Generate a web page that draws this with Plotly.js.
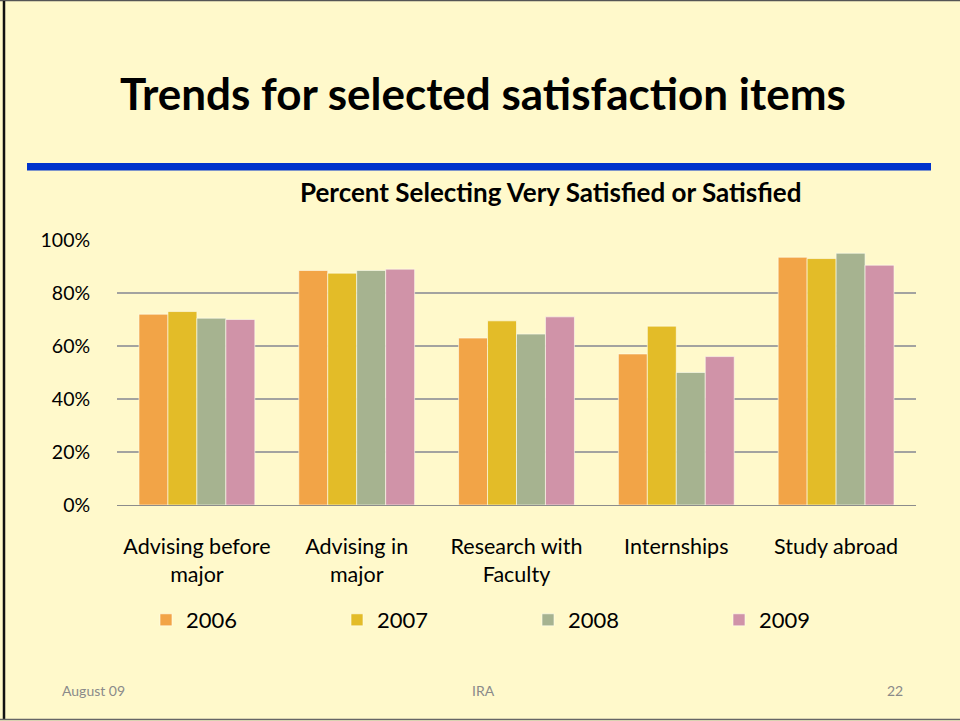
<!DOCTYPE html>
<html>
<head>
<meta charset="utf-8">
<script src="https://cdn.plot.ly/plotly-3.0.1.min.js"></script>
<style>
  html, body { margin: 0; padding: 0; background: #FFF9CB; }
  #chart { width: 960px; height: 721px; }
</style>
</head>
<body>
<div id="chart"></div>
<script>
const categories = ["Advising before<br>major", "Advising in<br>major", "Research with<br>Faculty", "Internships", "Study abroad"];
const years = ["2006", "2007", "2008", "2009"];
const values2006 = [72, 88.5, 63, 57, 93.5];
const values2007 = [73, 87.5, 69.5, 67.5, 93];
const values2008 = [70.5, 88.5, 64.5, 50, 95];
const values2009 = [70, 89, 71, 56, 90.5];
const seriesValues = [values2006, values2007, values2008, values2009];
const colors = ["#F2A447", "#E3BC28", "#A6B390", "#D093A8"];
const yTicks = [0, 20, 40, 60, 80, 100];

const W = 960, H = 721;
const L = 117, R = 916, T = 240, B = 505;
const px = x => (x - L) / (R - L);
const py = y => (B - y) / (B - T);

const FONT = "Lato, 'Open Sans', sans-serif";

const traces = years.map((yr, i) => ({
  type: "bar",
  name: yr,
  x: categories,
  y: seriesValues[i],
  marker: { color: colors[i], line: { color: "rgba(255,255,240,0.6)", width: 1 } },
  hoverinfo: "skip"
}));

const layout = {
  width: W, height: H,
  margin: { l: L, r: W - R, t: T, b: H - B, pad: 0 },
  paper_bgcolor: "#FFF9CB",
  plot_bgcolor: "#FFF9CB",
  barmode: "group",
  bargap: 0.275,
  bargroupgap: 0,
  showlegend: true,
  font: { family: FONT, color: "#000" },
  xaxis: {
    type: "category",
    showgrid: false,
    showline: true, linecolor: "#8C8C8C", linewidth: 1.3,
    ticks: "outside", ticklen: 22, tickcolor: "rgba(0,0,0,0)",
    tickfont: { family: FONT, size: 21.5, color: "#000" },
    fixedrange: true
  },
  yaxis: {
    range: [0, 100],
    tickvals: yTicks,
    ticktext: yTicks.map(v => v + "%"),
    showgrid: true, gridcolor: "#A3A3A0", gridwidth: 1.3,
    zeroline: false,
    showline: false,
    ticks: "outside", ticklen: 22, tickcolor: "rgba(0,0,0,0)",
    tickfont: { family: FONT, size: 19.5, color: "#000" },
    fixedrange: true
  },
  legend: {
    orientation: "h",
    x: px(146), xanchor: "left",
    y: py(620), yanchor: "middle",
    entrywidth: 146, entrywidthmode: "pixels",
    font: { family: FONT, size: 22, color: "#000" },
    bgcolor: "rgba(0,0,0,0)",
    traceorder: "normal"
  },
  shapes: [
    { type: "rect", xref: "paper", yref: "paper", x0: px(27), x1: px(931), y0: py(163), y1: py(170.5), fillcolor: "#0033CC", line: { width: 0 }, layer: "above" },
    { type: "line", xref: "paper", yref: "paper", x0: px(0), x1: px(960), y0: py(0.5), y1: py(0.5), line: { color: "#555", width: 1.5 } },
    { type: "line", xref: "paper", yref: "paper", x0: px(4), x1: px(4), y0: py(1), y1: py(720), line: { color: "#111", width: 2.5 } },
    { type: "line", xref: "paper", yref: "paper", x0: px(0), x1: px(960), y0: py(719.5), y1: py(719.5), line: { color: "#666", width: 1.5 } }
  ],
  annotations: [
    { text: "<b>Trends for selected satisfaction items</b>", xref: "paper", yref: "paper", x: px(483), y: py(93), xanchor: "center", yanchor: "middle", showarrow: false, font: { family: FONT, size: 44, color: "#000" } },
    { text: "<b>Percent Selecting Very Satisfied or Satisfied</b>", xref: "paper", yref: "paper", x: px(551), y: py(192), xanchor: "center", yanchor: "middle", showarrow: false, font: { family: FONT, size: 26, color: "#000" } },
    { text: "August 09", xref: "paper", yref: "paper", x: px(60), y: py(690), xanchor: "left", yanchor: "middle", showarrow: false, font: { family: FONT, size: 14, color: "#8A8A8A" } },
    { text: "IRA", xref: "paper", yref: "paper", x: px(483), y: py(690), xanchor: "center", yanchor: "middle", showarrow: false, font: { family: FONT, size: 14, color: "#8A8A8A" } },
    { text: "22", xref: "paper", yref: "paper", x: px(905), y: py(690), xanchor: "right", yanchor: "middle", showarrow: false, font: { family: FONT, size: 14, color: "#8A8A8A" } }
  ]
};

Plotly.newPlot("chart", traces, layout, { displayModeBar: false, staticPlot: true });
</script>
</body>
</html>
